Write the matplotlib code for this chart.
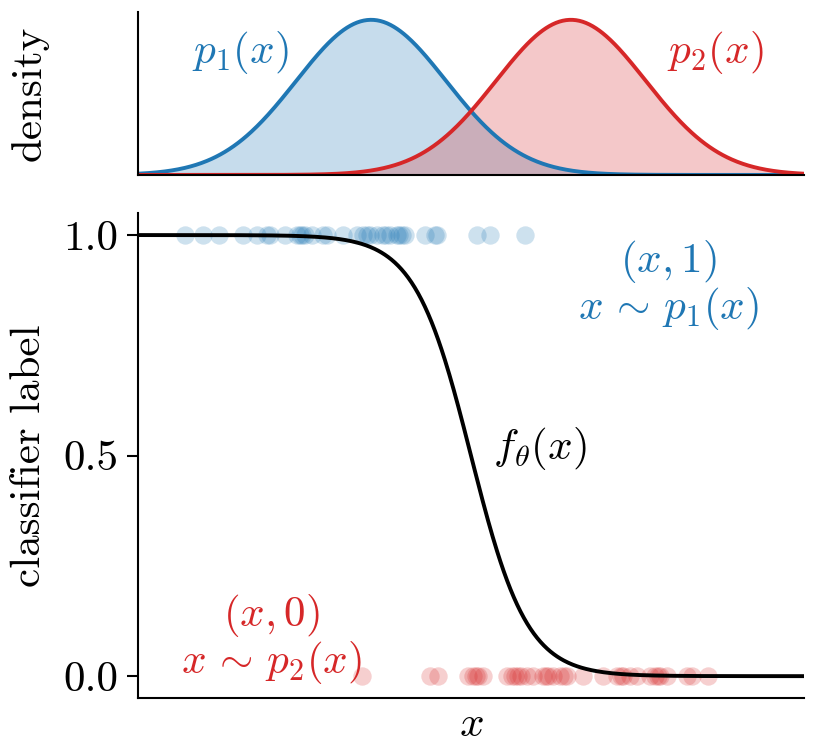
import numpy as np
import matplotlib
matplotlib.use("Agg")
import matplotlib.pyplot as plt

plt.rcParams['mathtext.fontset'] = 'cm'
plt.rcParams['font.family'] = 'serif'
plt.rcParams['font.serif'] = ['cmr10', 'DejaVu Serif']
plt.rcParams['axes.formatter.use_mathtext'] = True

# ---- data ----
mu1, mu2 = -1.2, 1.2
sigma = 0.9
x_samples_p1 = [-3.44, -3.22, -3.03, -2.74, -2.57, -2.45, -2.41, -2.23, -2.09, -2.05,
                -2.03, -1.99, -1.91, -1.78, -1.73, -1.54, -1.37, -1.30, -1.25, -1.21,
                -1.13, -1.06, -1.02, -0.97, -0.89, -0.86, -0.83, -0.79, -0.55, -0.43,
                -0.41, 0.07, 0.23, 0.65]
x_samples_p2 = [-1.31, -0.49, -0.40, -0.04, 0.02, 0.06, 0.08, 0.14, 0.43, 0.49,
                0.53, 0.56, 0.60, 0.67, 0.74, 0.86, 0.90, 0.92, 0.98, 1.07,
                1.12, 1.15, 1.35, 1.59, 1.75, 1.80, 1.83, 1.91, 1.99, 2.15,
                2.21, 2.25, 2.27, 2.35, 2.59, 2.65, 2.85]
yticks = [0.0, 0.5, 1.0]
ytick_labels = ['0.0', '0.5', '1.0']

blue = '#1f77b4'
red = '#d62728'
FS = 31

xs = np.linspace(-4, 4, 600)
def gauss(x, m, s):
    return np.exp(-(x - m) ** 2 / (2 * s ** 2)) / (s * np.sqrt(2 * np.pi))
d1 = gauss(xs, mu1, sigma)
d2 = gauss(xs, mu2, sigma)
f = d1 / (d1 + d2)

fig = plt.figure(figsize=(8.17, 7.54), dpi=100)
ax1 = fig.add_axes([0.169, 0.768, 0.815, 0.216])
ax2 = fig.add_axes([0.169, 0.074, 0.815, 0.6435])

# top panel
ax1.fill_between(xs, d1, color=blue, alpha=0.25, lw=0)
ax1.fill_between(xs, d2, color=red, alpha=0.25, lw=0)
ax1.plot(xs, d1, color=blue, lw=2.8)
ax1.plot(xs, d2, color=red, lw=2.8)
ax1.set_xlim(-4, 4)
ax1.set_ylim(0, d1.max() * 1.05)
ax1.set_xticks([])
ax1.set_yticks([])
ax1.set_ylabel('density', fontsize=FS)
ax1.text(-2.77, 0.351, r'$p_1(x)$', color=blue, fontsize=FS, ha='center', va='center')
ax1.text(2.94, 0.351, r'$p_2(x)$', color=red, fontsize=FS, ha='center', va='center')

# bottom panel
ax2.scatter(x_samples_p1, np.ones(len(x_samples_p1)), s=175, color=blue, alpha=0.22, lw=0, zorder=2)
ax2.scatter(x_samples_p2, np.zeros(len(x_samples_p2)), s=175, color=red, alpha=0.22, lw=0, zorder=2)
ax2.plot(xs, f, color='black', lw=2.8, zorder=3)
ax2.set_xlim(-4, 4)
ax2.set_ylim(-0.05, 1.05)
ax2.set_xticks([])
ax2.set_yticks(yticks)
ax2.set_yticklabels(ytick_labels)
ax2.tick_params(axis='y', labelsize=FS, length=8, width=1.5, pad=6)
ax2.set_xlabel(r'$x$', fontsize=FS, labelpad=6)
ax2.set_ylabel('classifier label', fontsize=FS)
ax2.text(2.37, 0.887, '$(x,1)$\n$x\\,\\sim\\,p_1(x)$', color=blue, fontsize=FS,
         ha='center', va='center', linespacing=1.0)
ax2.text(-2.40, 0.084, '$(x,0)$\n$x\\,\\sim\\,p_2(x)$', color=red, fontsize=FS,
         ha='center', va='center', linespacing=1.0)
ax2.text(0.83, 0.515, r'$f_\theta(x)$', color='black', fontsize=FS, ha='center', va='center')

for ax in (ax1, ax2):
    for sp in ('top', 'right'):
        ax.spines[sp].set_visible(False)
    for sp in ('left', 'bottom'):
        ax.spines[sp].set_linewidth(1.5)

ax1.yaxis.set_label_coords(-0.135, 0.5)
ax2.yaxis.set_label_coords(-0.135, 0.5)

fig.savefig('out.png', dpi=100)
